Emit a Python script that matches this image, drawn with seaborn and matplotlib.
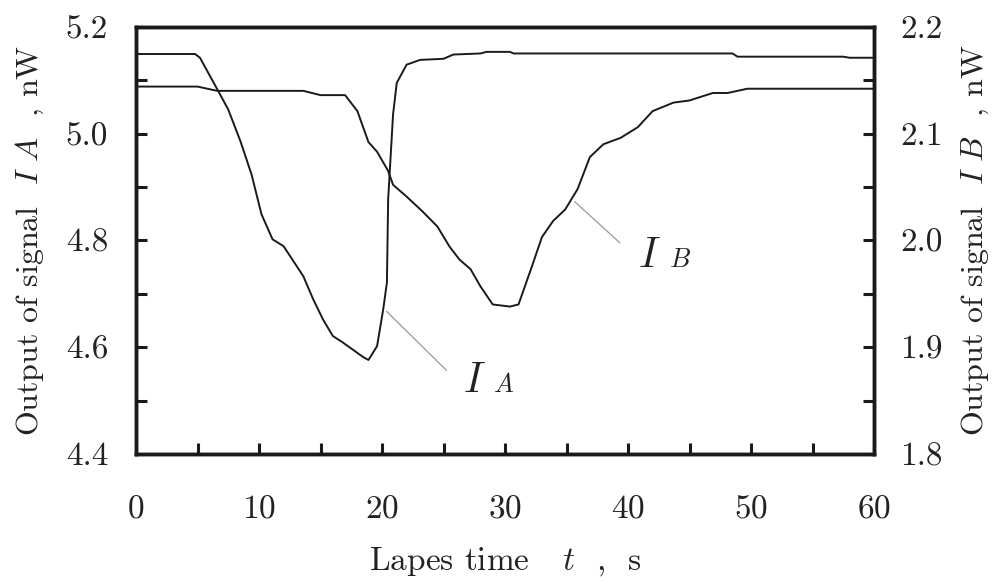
import numpy as np
import pandas as pd
import matplotlib
matplotlib.use("Agg")
import matplotlib.pyplot as plt
from matplotlib.ticker import MultipleLocator
import seaborn as sns

# Datos (tiempo en s, senal en nW)
t_a = [0.0, 4.8, 5.2, 6.7, 7.5, 8.5, 9.4, 10.2, 11.1, 12.0, 13.6, 14.4, 15.2, 16.0,
       16.8, 18.5, 18.9, 19.6, 20.1, 20.4, 20.5, 20.9, 21.2, 22.0, 23.1, 25.0, 25.8,
       28.0, 28.5, 30.4, 30.7, 48.5, 48.9, 57.5, 58.0, 60.0]
i_a = [5.149, 5.149, 5.142, 5.079, 5.045, 4.985, 4.923, 4.849, 4.802, 4.789, 4.733,
       4.690, 4.652, 4.621, 4.609, 4.581, 4.576, 4.602, 4.671, 4.721, 4.877, 5.036,
       5.095, 5.129, 5.138, 5.140, 5.148, 5.150, 5.153, 5.153, 5.150, 5.150, 5.144,
       5.144, 5.142, 5.142]

t_b = [0.0, 5.0, 6.6, 13.6, 15.0, 17.0, 18.0, 18.9, 19.6, 20.5, 20.9, 22.0, 23.3,
       24.5, 25.5, 26.3, 27.2, 28.0, 29.0, 30.4, 31.1, 32.2, 33.0, 33.9, 34.9, 35.9,
       36.9, 38.0, 39.4, 40.8, 42.0, 43.7, 45.0, 46.9, 48.1, 49.7, 60.0]
i_b = [2.144, 2.144, 2.140, 2.140, 2.136, 2.136, 2.121, 2.092, 2.083, 2.065, 2.052,
       2.041, 2.027, 2.013, 1.994, 1.982, 1.973, 1.957, 1.940, 1.938, 1.940, 1.976,
       2.003, 2.018, 2.029, 2.048, 2.078, 2.090, 2.096, 2.106, 2.121, 2.129, 2.131,
       2.138, 2.138, 2.142, 2.142]

df_a = pd.DataFrame({"t": t_a, "I": i_a})
df_b = pd.DataFrame({"t": t_b, "I": i_b})

sns.set_style("white")
plt.rcParams["font.family"] = ["cmr10", "DejaVu Serif"]
plt.rcParams["mathtext.fontset"] = "cm"
plt.rcParams["axes.formatter.use_mathtext"] = True

ink = "#1a1a1a"
txt = "#222222"

fig = plt.figure(figsize=(10, 5.82), dpi=100)
ax = fig.add_axes([0.136, 0.220, 0.738, 0.734])
ax2 = ax.twinx()

sns.lineplot(data=df_a, x="t", y="I", ax=ax, color=ink, linewidth=1.4)
sns.lineplot(data=df_b, x="t", y="I", ax=ax2, color=ink, linewidth=1.4)

ax.set_xlim(0, 60)
ax.set_ylim(4.4, 5.2)
ax2.set_ylim(1.8, 2.2)

ax.xaxis.set_major_locator(MultipleLocator(10))
ax.xaxis.set_minor_locator(MultipleLocator(5))
ax.yaxis.set_major_locator(MultipleLocator(0.2))
ax.yaxis.set_minor_locator(MultipleLocator(0.1))
ax2.yaxis.set_major_locator(MultipleLocator(0.1))
ax2.yaxis.set_minor_locator(MultipleLocator(0.05))
ax.yaxis.set_major_formatter(plt.FormatStrFormatter("%.1f"))
ax2.yaxis.set_major_formatter(plt.FormatStrFormatter("%.1f"))

for a in (ax, ax2):
    for s in a.spines.values():
        s.set_linewidth(2.5)
        s.set_color(ink)
    a.tick_params(which="both", direction="in", width=2.2, length=8, color=ink,
                  labelsize=24, labelcolor=txt)
ax.tick_params(axis="y", which="both", left=True, right=False, pad=20)
ax.tick_params(axis="x", which="both", bottom=True, top=False, pad=29)
ax2.tick_params(axis="y", which="both", right=True, left=False, pad=19)

ax.set_xlabel("Lapes time   $t$  ,  s", fontsize=24, labelpad=16, color=txt)
ax.set_ylabel("Output of signal  $I\\ A$  , nW", fontsize=23, labelpad=14, color=txt)
ax2.set_ylabel("Output of signal  $I\\ B$  , nW", fontsize=23, labelpad=12, color=txt)

# Etiquetas de las curvas
ax.annotate("", xy=(20.2, 4.671), xytext=(25.4, 4.553),
            arrowprops=dict(arrowstyle="-", color="#999999", lw=0.9))
ax.text(26.6, 4.516, "$I$", fontsize=30, va="baseline", color=txt)
ax.text(29.0, 4.516, "$A$", fontsize=19, va="baseline", color=txt)

ax2.annotate("", xy=(35.5, 2.038), xytext=(39.5, 1.996),
             arrowprops=dict(arrowstyle="-", color="#999999", lw=0.9))
ax2.text(40.8, 1.975, "$I$", fontsize=30, va="baseline", color=txt)
ax2.text(43.3, 1.975, "$B$", fontsize=19, va="baseline", color=txt)

fig.savefig("out.png", dpi=100)
